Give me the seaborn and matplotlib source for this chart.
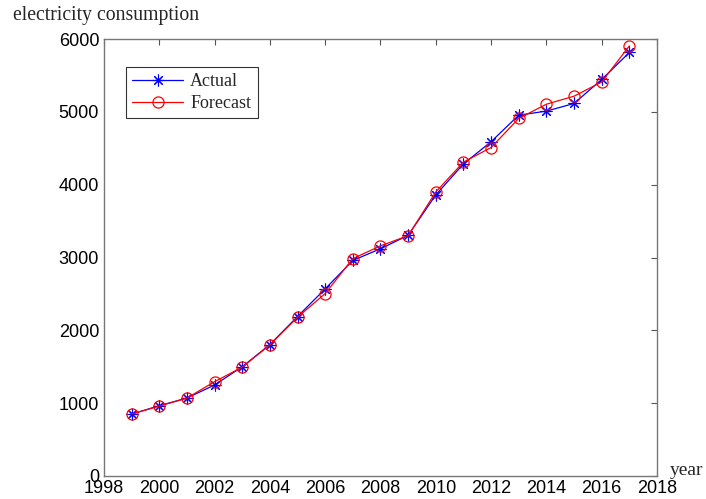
import pandas as pd
import matplotlib
matplotlib.use("Agg")
import matplotlib.pyplot as plt
import seaborn as sns

# data
years = list(range(1999, 2018))
actual = [850, 965, 1070, 1250, 1500, 1805, 2190, 2570, 2960, 3120, 3305,
          3860, 4285, 4590, 4955, 5010, 5115, 5445, 5815]
forecast = [850, 960, 1070, 1295, 1495, 1800, 2180, 2505, 2985, 3160, 3300,
            3900, 4310, 4510, 4910, 5105, 5215, 5410, 5905]

x_ticks = list(range(1998, 2019, 2))
y_ticks = list(range(0, 6001, 1000))

df = pd.DataFrame({"year": years, "Actual": actual, "Forecast": forecast})

sns.set_style("white")
plt.rcParams["font.family"] = ["Liberation Sans", "DejaVu Sans"]

fig = plt.figure(figsize=(7.06, 4.99), dpi=100)
ax = fig.add_axes([0.1473, 0.0461, 0.7833, 0.8757])

sns.lineplot(data=df, x="year", y="Actual", ax=ax, color="#0000ff",
             marker=(8, 2, 0), markersize=8.5, markeredgewidth=0.8,
             markeredgecolor="#0000ff", linewidth=0.9, label="Actual")
sns.lineplot(data=df, x="year", y="Forecast", ax=ax, color="#ff0000",
             marker="o", markersize=8, markerfacecolor="none",
             markeredgewidth=0.9, markeredgecolor="#ff0000",
             linewidth=0.9, label="Forecast")

ax.set_xlim(1998, 2018)
ax.set_ylim(0, 6000)
ax.set_xticks(x_ticks)
ax.set_yticks(y_ticks)
ax.tick_params(direction="in", length=4, width=0.8, top=True, right=True,
               labelsize=13, colors="#555555", labelcolor="black")
ax.tick_params(axis="x", pad=3)
for s in ax.spines.values():
    s.set_color("#777777")
    s.set_linewidth(1.0)

ax.set_xlabel("")
ax.set_ylabel("")
fig.text(0.018, 0.950, "electricity consumption", family="Liberation Serif",
         fontsize=14.2, ha="left", va="bottom")
fig.text(0.949, 0.040, "year", family="Liberation Serif", fontsize=14,
         ha="left", va="bottom")

leg = ax.legend(loc="upper left", bbox_to_anchor=(0.04, 0.936),
                borderaxespad=0, frameon=True, fancybox=False,
                prop={"family": "Liberation Serif", "size": 13},
                handlelength=2.8, handletextpad=0.4, borderpad=0.35,
                labelspacing=0.25)
leg.get_frame().set_edgecolor("black")
leg.get_frame().set_linewidth(0.8)

fig.savefig("out.png", dpi=100)
